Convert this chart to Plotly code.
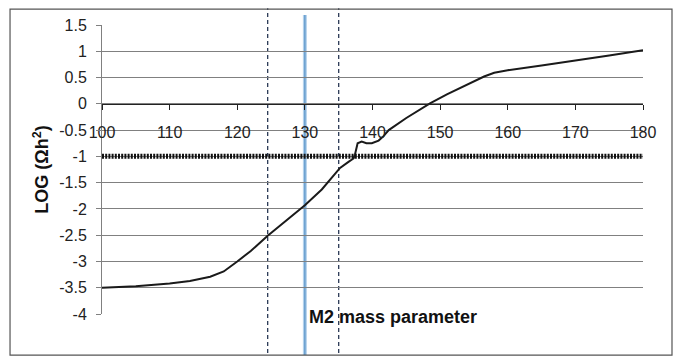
import plotly.graph_objects as go

# ---- data ----
m2 = [100, 105, 110, 113, 116, 118, 120, 122, 124.5, 127, 130, 132.5, 135.2, 136.5,
      137.2, 137.4, 137.6, 137.8, 138.4, 139.1, 139.9, 140.9, 141.6, 142.4, 145,
      148.5, 151, 153, 155, 156.5, 158, 160, 165, 170, 175, 180]
log_omega = [-3.5, -3.47, -3.42, -3.37, -3.29, -3.19, -3.0, -2.8, -2.51, -2.25, -1.93,
             -1.63, -1.22, -1.1, -1.04, -0.97, -0.86, -0.75, -0.72, -0.75, -0.75, -0.70,
             -0.62, -0.50, -0.27, 0.01, 0.18, 0.3, 0.42, 0.52, 0.59, 0.64, 0.73, 0.82,
             0.92, 1.02]
threshold = -1.0
dashed_x = [124.5, 135]
central_x = [130]
x_ticks = [100, 110, 120, 130, 140, 150, 160, 170, 180]
y_ticks = [1.5, 1, 0.5, 0, -0.5, -1, -1.5, -2, -2.5, -3, -3.5, -4]
y_tick_labels = ["1.5", "1", "0.5", "0", "-0.5", "-1", "-1.5", "-2", "-2.5", "-3", "-3.5", "-4"]

FONT = "Arial, Liberation Sans, sans-serif"

fig = go.Figure()
fig.add_trace(go.Scatter(x=m2, y=log_omega, mode="lines",
                         line=dict(color="#1a1a1a", width=2), showlegend=False,
                         hoverinfo="skip"))

shapes = []
# threshold dotted line
shapes.append(dict(type="line", xref="x", yref="y", x0=x_ticks[0], x1=x_ticks[-1],
                   y0=threshold, y1=threshold,
                   line=dict(color="#111111", width=5, dash="2px,1.2px"), layer="above"))
for xv in dashed_x:
    shapes.append(dict(type="line", xref="x", yref="paper", x0=xv, x1=xv, y0=-0.135, y1=1.058,
                       line=dict(color="#2b3a55", width=1.3, dash="4px,3px"), layer="between"))
for xv in central_x:
    shapes.append(dict(type="line", xref="x", yref="paper", x0=xv, x1=xv, y0=-0.142, y1=1.035,
                       line=dict(color="#b3d1ec", width=4), layer="between"))
    shapes.append(dict(type="line", xref="x", yref="paper", x0=xv, x1=xv, y0=-0.142, y1=1.035,
                       line=dict(color="#5b95c9", width=1.3), layer="between"))
# outer border
shapes.append(dict(type="rect", xref="paper", yref="paper", x0=-0.170, x1=1.0536,
                   y0=-0.142, y1=1.055, line=dict(color="#555555", width=1.2)))

zero_pos = (0 - y_ticks[-1]) / (y_ticks[0] - y_ticks[-1])

fig.update_layout(
    width=675, height=359,
    margin=dict(l=102, r=32, t=25, b=45),
    paper_bgcolor="white", plot_bgcolor="white",
    font=dict(family=FONT, size=16, color="#1a1a1a"),
    shapes=shapes,
    xaxis=dict(range=[x_ticks[0], x_ticks[-1]], tickvals=x_ticks, showgrid=False,
               showline=True, linecolor="#222222", linewidth=1.2,
               anchor="free", position=zero_pos, zeroline=False,
               ticks="outside", ticklen=5, tickcolor="#222222",
               ticklabelstandoff=9, tickfont=dict(size=16, color="#222222")),
    yaxis=dict(range=[y_ticks[-1], y_ticks[0]], tickvals=y_ticks, ticktext=y_tick_labels,
               showgrid=True, gridcolor="#808080", gridwidth=1, zeroline=False,
               showline=True, linecolor="#808080", linewidth=1,
               ticks="outside", ticklen=5, tickcolor="#808080",
               ticklabelstandoff=6,
               tickfont=dict(size=16, color="#222222"),
               title=dict(text="<b>LOG (Ωh<sup>2</sup>)</b>", font=dict(size=18, color="#111111"),
                          standoff=5)),
    annotations=[dict(text="<b>M2 mass parameter</b>", xref="paper", yref="paper",
                      x=0.537, y=-0.052, showarrow=False,
                      font=dict(size=18, color="#111111"))],
)

fig.write_html("out.html")
